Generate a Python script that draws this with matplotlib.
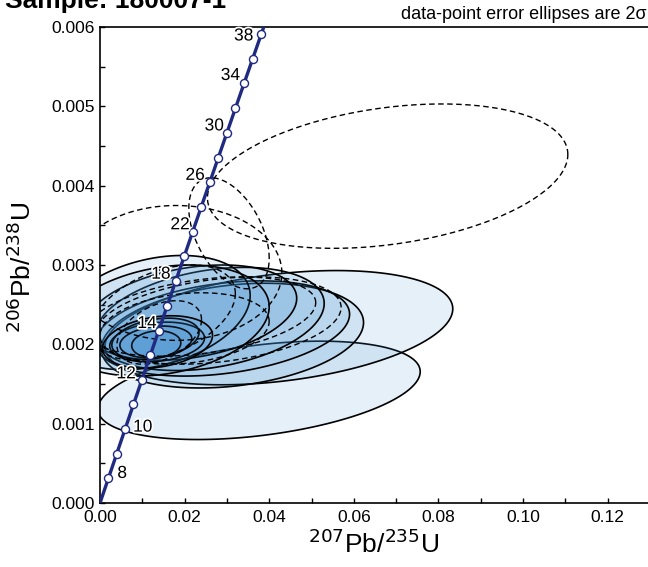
import numpy as np
import matplotlib.pyplot as plt
import matplotlib.patheffects as pe
from matplotlib.ticker import MultipleLocator, FormatStrFormatter

plt.rcParams['font.family'] = ['Liberation Sans', 'DejaVu Sans']

# decay constants (1/Ma)
L238 = 1.55125e-4
L235 = 9.8485e-4

# accepted analyses: 207Pb/235U, 2s, 206Pb/238U, 2s, rho
acc_x = [0.0376, 0.0423, 0.0313, 0.0290, 0.0260, 0.0215, 0.0125, 0.0150,
         0.0135, 0.0131, 0.0132, 0.0133, 0.0136]
acc_sx = [0.0381, 0.0411, 0.0310, 0.0300, 0.0270, 0.0250, 0.0230, 0.0250,
          0.0112, 0.0103, 0.0085, 0.0058, 0.0130]
acc_y = [0.00142, 0.00221, 0.00211, 0.00220, 0.00232, 0.00240, 0.00240, 0.00230,
         0.00203, 0.00207, 0.00203, 0.00200, 0.00203]
acc_sy = [0.00062, 0.00072, 0.00066, 0.00060, 0.00065, 0.00060, 0.00072, 0.00070,
          0.00025, 0.00026, 0.00020, 0.00017, 0.00033]
acc_rho = [0.38, 0.33, 0.25, 0.30, 0.30, 0.30, 0.30, 0.25,
           0.20, 0.30, 0.20, 0.10, 0.25]

# rejected analyses (dashed)
rej_x = [0.0680, 0.0305, 0.0180, 0.0280, 0.0240, 0.0150, 0.0140, 0.0200]
rej_sx = [0.0426, 0.0095, 0.0250, 0.0290, 0.0270, 0.0170, 0.0100, 0.0200]
rej_y = [0.00412, 0.00340, 0.00290, 0.00230, 0.00235, 0.00240, 0.00215, 0.00220]
rej_sy = [0.00091, 0.00070, 0.00085, 0.00055, 0.00050, 0.00060, 0.00040, 0.00045]
rej_rho = [0.30, -0.45, 0.0, 0.30, 0.35, 0.40, 0.40, 0.20]

# concordia ticks (Ma) and labels
tick_ages = np.arange(2, 41, 2)
label_text = ['8', '10', '12', '14', '18', '22', '26', '30', '34', '38']
label_at = [2, 6, 10, 14, 18, 22, 26, 30, 34, 38]
label_off = [(9, 5), (8, 2), (-6, 6), (-2, 7), (-5, 7), (-3, 7), (-5, 7), (-3, 7), (-4, 8), (-8, -2)]
label_ha = ['left', 'left', 'right', 'right', 'right', 'right', 'right', 'right', 'right', 'right']


def concordia(t):
    t = np.asarray(t, dtype=float)
    return np.exp(L235 * t) - 1, np.exp(L238 * t) - 1


def ellipse(cx, sx, cy, sy, rho, n=200):
    a = np.linspace(0, 2 * np.pi, n)
    ex = cx + sx * np.cos(a)
    ey = cy + sy * (rho * np.cos(a) + np.sqrt(1 - rho ** 2) * np.sin(a))
    return ex, ey


fig = plt.figure(figsize=(6.48, 5.67), dpi=100)
W, H = 648, 567
ax = fig.add_axes([100 / W, 64 / H, 548 / W, 476 / H])

fill_col = (0.235, 0.553, 0.816, 0.13)
for i in range(len(acc_x)):
    ex, ey = ellipse(acc_x[i], acc_sx[i], acc_y[i], acc_sy[i], acc_rho[i])
    ax.fill(ex, ey, facecolor=fill_col, edgecolor='black', lw=1.2, zorder=2)

for i in range(len(rej_x)):
    ex, ey = ellipse(rej_x[i], rej_sx[i], rej_y[i], rej_sy[i], rej_rho[i])
    ax.plot(ex, ey, color='black', lw=1.0, ls=(0, (4, 2.5)), zorder=3)

# concordia line
t = np.linspace(0, 45, 400)
cx, cy = concordia(t)
ax.plot(cx, cy, color='#1F2A80', lw=2.4, zorder=4)
tx, ty = concordia(tick_ages)
ax.plot(tx, ty, 'o', ms=5.8, mfc='white', mec='#1F2A80', mew=1.0, zorder=5)

for txt, age, off, ha in zip(label_text, label_at, label_off, label_ha):
    px, py = concordia(age)
    ax.annotate(txt, (px, py), xytext=off, textcoords='offset pixels',
                ha=ha, va='center', fontsize=12.5, zorder=6,
                path_effects=[pe.withStroke(linewidth=2.5, foreground='white')])

ax.set_xlim(0, 548 / 4230)
ax.set_ylim(0, 0.006)
ax.xaxis.set_major_locator(MultipleLocator(0.02))
ax.xaxis.set_minor_locator(MultipleLocator(0.01))
ax.yaxis.set_major_locator(MultipleLocator(0.001))
ax.yaxis.set_minor_locator(MultipleLocator(0.0005))
ax.xaxis.set_major_formatter(FormatStrFormatter('%.2f'))
ax.yaxis.set_major_formatter(FormatStrFormatter('%.3f'))
ax.tick_params(which='both', direction='in', length=3.5, width=1.0,
               labelsize=12.5, top=False, right=False)
ax.tick_params(axis='x', pad=5)
ax.tick_params(axis='y', pad=3.5)
for s in ['left', 'bottom', 'top']:
    ax.spines[s].set_linewidth(1.2)
ax.spines['right'].set_visible(False)

fig.text(374 / W, 1 - 544 / H, r'$^{207}$Pb/$^{235}$U', ha='center', va='center', fontsize=19)
fig.text(22 / W, 1 - 267 / H, r'$^{206}$Pb/$^{238}$U', ha='center', va='center',
         rotation=90, fontsize=19)
fig.text(5 / W, 1 - 8 / H, 'Sample: 180007-1', ha='left', va='baseline',
         fontsize=19, fontweight='bold')
fig.text(647 / W, 1 - 19 / H, 'data-point error ellipses are 2σ', ha='right',
         va='baseline', fontsize=13)

fig.savefig('out.png', dpi=100)
